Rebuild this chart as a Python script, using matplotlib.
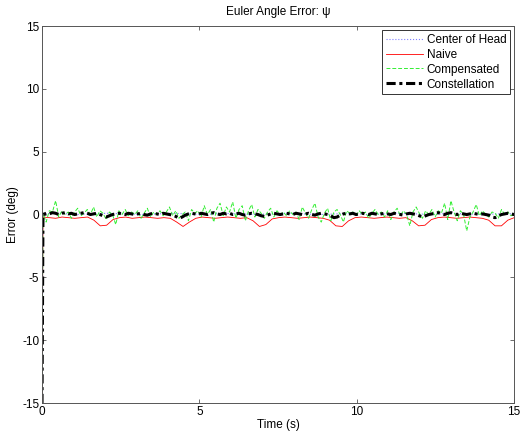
import numpy as np
import matplotlib
matplotlib.use("Agg")
import matplotlib.pyplot as plt

plt.rcParams['font.family'] = ['Liberation Sans', 'DejaVu Sans']
plt.rcParams['axes.unicode_minus'] = False

title = "Euler Angle Error: \u03c8"
xlabel = "Time (s)"
ylabel = "Error (deg)"
series_names = ["Center of Head", "Naive", "Compensated", "Constellation"]
xticks = [0, 5, 10, 15]
yticks = [-15, -10, -5, 0, 5, 10, 15]
start_value = -15

# Center of Head, sampled every 0.5 s (after the initial value)
center_vals = [0.05, 0.1, 0.0, 0.05, 0.1, 0.05, 0.0, 0.05, 0.1,
               0.05, 0.0, 0.1, 0.05, 0.0, 0.05, 0.1, 0.05, 0.0, 0.05,
               0.1, 0.0, 0.05, 0.1, 0.05, 0.0, 0.1, 0.05, 0.0, 0.05, 0.05]

# Naive, sampled every 0.2 s
naive_vals = [-0.2, -0.25, -0.3, -0.2, -0.25, -0.3, -0.25, -0.2, -0.45,
              -0.9, -0.85, -0.4, -0.25, -0.2, -0.3, -0.25, -0.2, -0.25, -0.3,
              -0.25, -0.3, -0.6, -0.95, -0.6, -0.3, -0.2, -0.25, -0.3, -0.25,
              -0.2, -0.25, -0.3, -0.25, -0.5, -0.95, -0.8, -0.35, -0.25, -0.2,
              -0.25, -0.3, -0.25, -0.2, -0.25, -0.3, -0.45, -0.9, -0.95, -0.5,
              -0.25, -0.2, -0.25, -0.3, -0.25, -0.2, -0.25, -0.3, -0.25, -0.5,
              -0.9, -0.85, -0.4, -0.25, -0.2, -0.25, -0.3, -0.25, -0.2, -0.25,
              -0.3, -0.45, -0.9, -0.9, -0.45, -0.25]

# Compensated, sampled every 0.1 s
comp_vals = [0.1, -0.6, 0.3, 0.2, 1.1, -0.2, 0.3, 0.0, 0.2,
             -0.3, 0.2, 0.5, -0.1, 0.1, 0.4, 0.0, 0.6, -0.2, 0.3,
             0.1, -0.4, 0.2, 0.0, -0.8, 0.3, 0.0, 0.4, -0.1, 0.2,
             0.0, 0.3, -0.3, 0.1, 0.5, -0.2, 0.2, 0.0, 0.3, -0.1,
             0.2, 0.6, -0.1, 0.3, -0.3, 0.0, 0.2, -0.5, 0.4, 0.1,
             0.3, -0.2, 0.7, 0.0, 0.4, -0.6, 0.5, 0.9, -0.1, 0.6,
             0.2, 1.0, -0.3, 0.4, 0.7, -0.5, 0.3, 0.8, -0.2, 0.4,
             0.1, -0.3, 0.2, 0.5, -0.2, 0.3, 0.0, 0.2, -0.1, 0.3,
             0.0, 0.2, -0.4, 0.6, 0.1, -0.3, 0.4, 0.9, -0.2, -0.6,
             0.1, 0.5, -0.5, 0.2, 0.4, 0.0, -0.6, 0.3, 0.1, 0.2,
             -0.1, 0.3, 0.0, 0.2, -0.3, 0.1, 0.4, 0.0, 0.2, -0.2,
             0.3, -0.4, 0.2, 0.5, -0.1, 0.3, 0.0, -0.9, 0.2, 0.6,
             0.1, -0.3, 0.3, 0.0, 0.4, -0.2, 0.3, 0.1, 0.9, -0.4,
             1.1, 0.2, -0.5, 0.3, 0.0, -1.3, -0.2, 0.2, 0.8, -0.1,
             0.3, 0.0, -0.2, 0.2, 0.1, -0.3, 0.4, 0.0, 0.2, -0.1,
             0.1]

# Constellation, sampled every 0.1 s
const_vals = [0.0, 0.1, 0.05, 0.15, 0.1, 0.0, 0.1, 0.15, 0.05,
              0.1, 0.0, 0.05, 0.1, 0.15, 0.1, 0.0, 0.05, 0.1, 0.0,
              -0.1, -0.2, -0.1, 0.0, 0.05, 0.1, 0.05, 0.0, 0.1, 0.05,
              0.0, 0.05, 0.1, 0.0, -0.05, 0.05, 0.1, 0.05, 0.0, 0.1,
              0.05, 0.0, -0.05, -0.15, -0.3, -0.2, -0.05, 0.05, 0.1, 0.05,
              0.0, 0.1, 0.05, 0.0, 0.1, 0.15, 0.05, 0.0, 0.1, 0.05,
              0.1, 0.0, 0.05, 0.1, 0.0, -0.05, 0.05, 0.1, 0.05, 0.0,
              -0.1, -0.15, -0.05, 0.05, 0.1, 0.05, 0.0, 0.05, 0.1, 0.05,
              0.0, 0.1, 0.05, 0.0, 0.05, 0.1, 0.0, -0.05, 0.05, 0.1,
              0.05, 0.0, -0.1, -0.25, -0.2, -0.05, 0.05, 0.1, 0.05, 0.1,
              0.0, 0.05, 0.1, 0.05, 0.0, 0.1, 0.05, 0.0, 0.05, 0.1,
              0.05, 0.0, 0.1, 0.05, 0.0, -0.05, 0.05, 0.1, 0.05, 0.0,
              -0.1, -0.2, -0.1, 0.0, 0.05, 0.1, 0.15, 0.05, 0.0, 0.1,
              0.15, 0.05, 0.0, 0.1, 0.05, 0.0, 0.05, 0.1, 0.05, 0.0,
              0.05, 0.0, -0.05, -0.2, -0.25, -0.1, 0.0, 0.05, 0.1, 0.05,
              0.0]

def series(vals):
    t = np.concatenate([[0.0], np.linspace(0.03, 15, len(vals))])
    y = np.concatenate([[start_value], vals])
    return t, y

fig = plt.figure(figsize=(5.22, 4.34), dpi=100)
ax = fig.add_axes([0.0805, 0.0714, 0.9045, 0.8686])

ax.plot(*series(center_vals), color='#8080ff', linestyle=':', linewidth=0.8,
        label=series_names[0])
ax.plot(*series(naive_vals), color='#ff0000', linestyle='-', linewidth=0.6,
        label=series_names[1])
ax.plot(*series(comp_vals), color='#33ee33', linestyle=(0, (4, 2)), linewidth=0.7,
        label=series_names[2])
ax.plot(*series(const_vals), color='black', linestyle=(0, (3, 1.2, 1, 1.2)),
        linewidth=2.2, label=series_names[3])

ax.set_xlim(0, 15)
ax.set_ylim(-15, 15)
ax.set_xticks(xticks)
ax.set_yticks(yticks)
ax.tick_params(direction='in', top=True, right=True, labelsize=8.5, length=3,
               width=0.6, color='#555555', pad=2)
for s in ax.spines.values():
    s.set_linewidth(0.7)
    s.set_color('#555555')

ax.set_title(title, fontsize=8.5, pad=8)
ax.set_xlabel(xlabel, fontsize=8.5, labelpad=1)
ax.set_ylabel(ylabel, fontsize=8.5, labelpad=2)

leg = ax.legend(loc='upper right', fontsize=8.5, frameon=True, fancybox=False,
                borderaxespad=0.35, handlelength=3.2, handletextpad=0.3,
                labelspacing=0.25, borderpad=0.3)
leg.get_frame().set_edgecolor('black')
leg.get_frame().set_linewidth(0.7)

fig.savefig('out.png', dpi=100)
